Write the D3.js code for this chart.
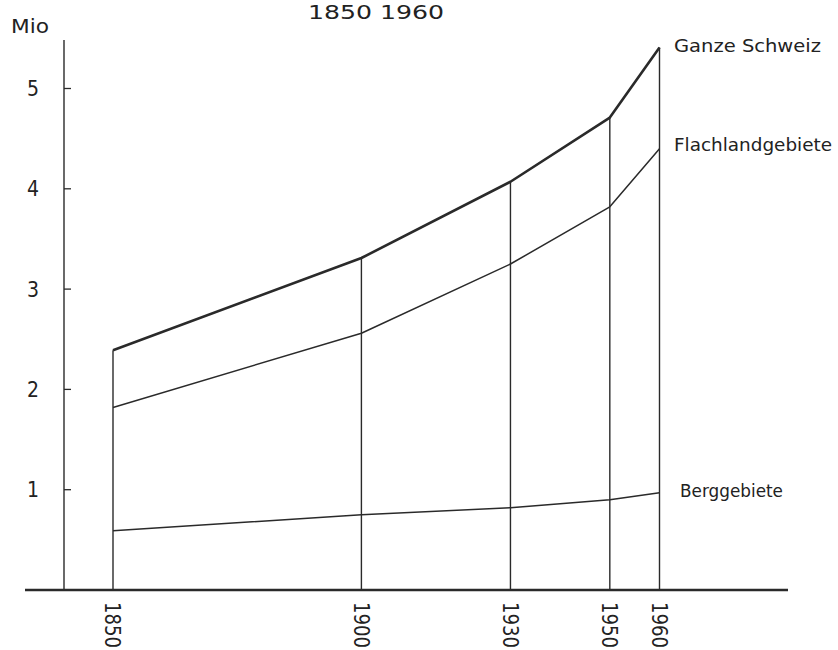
<!DOCTYPE html>
<html><head><meta charset="utf-8">
<script src="https://cdn.jsdelivr.net/npm/d3@7"></script>
<style>body{margin:0;background:#fff}svg{display:block}text{font-family:"DejaVu Sans Condensed","Liberation Sans Narrow","DejaVu Sans",sans-serif;fill:#222}</style>
</head><body><svg id="c" width="838" height="650"></svg>
<script>
const years = [1850, 1900, 1930, 1950, 1960];
const ganzeSchweiz = [2.39, 3.31, 4.07, 4.71, 5.41];
const flachland = [1.82, 2.56, 3.25, 3.82, 4.40];
const berggebiete = [0.59, 0.75, 0.82, 0.90, 0.97];
const yTicks = [1, 2, 3, 4, 5];
const seriesLabels = ["Ganze Schweiz", "Flachlandgebiete", "Berggebiete"];
const title = "1850 1960";
const unit = "Mio";

const svg = d3.select("#c");
const x = d3.scaleLinear().domain([1850, 1960]).range([113, 659.5]);
const y = d3.scaleLinear().domain([0, 5]).range([590, 88.5]);
const ink = "#2a2a2a";

// title
svg.append("text").attr("x", 308).attr("y", 19).attr("font-size", 20)
  .attr("textLength", 136).attr("lengthAdjust", "spacingAndGlyphs").text(title);
svg.append("text").attr("x", 11).attr("y", 33).attr("font-size", 19)
  .attr("textLength", 38).attr("lengthAdjust", "spacingAndGlyphs").text(unit);

// y axis
svg.append("line").attr("x1", 64).attr("x2", 64).attr("y1", 40).attr("y2", 590)
  .attr("stroke", ink).attr("stroke-width", 1.4);
svg.selectAll(".yt").data(yTicks).join("line")
  .attr("x1", 64).attr("x2", 71).attr("y1", d => y(d)).attr("y2", d => y(d))
  .attr("stroke", ink).attr("stroke-width", 1.3);
svg.selectAll(".yl").data(yTicks).join("text")
  .attr("x", 33).attr("y", d => y(d)).attr("dy", "0.36em")
  .attr("text-anchor", "middle").attr("font-size", 21).attr("font-weight", 300).text(d => d);

// vertical year lines up to Ganze Schweiz
svg.selectAll(".vl").data(years).join("line")
  .attr("x1", d => x(d)).attr("x2", d => x(d))
  .attr("y1", 590).attr("y2", (d, i) => y(ganzeSchweiz[i]))
  .attr("stroke", ink).attr("stroke-width", 1.4);

// x axis
svg.append("line").attr("x1", 25).attr("x2", 788).attr("y1", 590).attr("y2", 590)
  .attr("stroke", ink).attr("stroke-width", 2.6);

// year labels rotated
svg.selectAll(".xl").data(years).join("text")
  .attr("transform", d => `translate(${x(d)},602) rotate(90)`)
  .attr("dy", "0.36em").attr("font-size", 21)
  .attr("textLength", 46).attr("lengthAdjust", "spacingAndGlyphs").text(d => d);

// series lines
const line = d3.line().x((d, i) => x(years[i])).y(d => y(d));
const series = [ganzeSchweiz, flachland, berggebiete];
const widths = [2.6, 1.5, 1.5];
series.forEach((s, k) => {
  svg.append("path").attr("d", line(s)).attr("fill", "none")
    .attr("stroke", ink).attr("stroke-width", widths[k]).attr("stroke-linejoin", "round");
});

// right labels
const labelX = [674, 674, 680];
const labelLen = [147, 158, 103];
const labelDy = [-1, -4, -2];
series.forEach((s, k) => {
  svg.append("text").attr("x", labelX[k]).attr("y", y(s[s.length - 1]) + labelDy[k])
    .attr("dy", "0.36em").attr("font-size", 17)
    .attr("textLength", labelLen[k]).attr("lengthAdjust", "spacingAndGlyphs")
    .text(seriesLabels[k]);
});
</script></body></html>
